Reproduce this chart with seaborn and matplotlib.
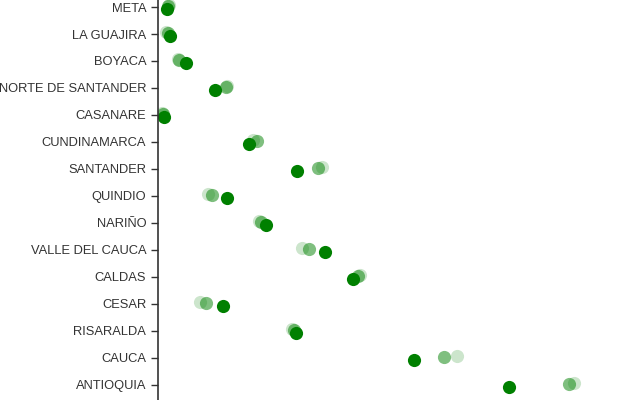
import matplotlib
matplotlib.use("Agg")
import matplotlib.pyplot as plt
import matplotlib.transforms as mtrans
import seaborn as sns
import pandas as pd

departments = ["META", "LA GUAJIRA", "BOYACA", "NORTE DE SANTANDER", "CASANARE",
               "CUNDINAMARCA", "SANTANDER", "QUINDIO", "NARIÑO", "VALLE DEL CAUCA",
               "CALDAS", "CESAR", "RISARALDA", "CAUCA", "ANTIOQUIA"]

# three series, oldest (faintest) to latest (solid)
serie_a = [2.8, 2.0, 5.0, 17.2, 1.0, 23.8, 41.0, 12.5, 25.2, 36.0, 50.5, 10.5, 33.5, 74.8, 104.0]
serie_b = [2.5, 2.5, 5.2, 17.0, 1.2, 24.8, 40.0, 13.5, 25.8, 37.8, 50.0, 12.0, 34.0, 71.5, 102.8]
serie_c = [2.2, 3.0, 7.0, 14.2, 1.5, 22.8, 34.8, 17.2, 27.0, 41.8, 48.8, 16.2, 34.5, 64.0, 87.8]

sns.set_style("white")
plt.rcParams["font.family"] = ["Liberation Sans", "DejaVu Sans"]

fig = plt.figure(figsize=(6.4, 4.0), dpi=100)
ax = fig.add_axes([158 / 640, 0, 482 / 640, 1])

series = [(serie_a, 0.2, -2), (serie_b, 0.5, -1), (serie_c, 1.0, 2)]
for vals, alpha, dy in series:
    df = pd.DataFrame({"dep": departments, "val": vals})
    before = len(ax.collections)
    sns.scatterplot(data=df, x="val", y="dep", color="green", alpha=alpha,
                    s=90, linewidth=0, ax=ax)
    coll = ax.collections[before]
    coll.set_offset_transform(mtrans.offset_copy(ax.transData, fig=fig, x=0, y=-dy, units="dots"))

ax.set_xlim(0, 120.5)
ax.set_ylim(14.56, -0.26)
ax.set_xlabel("")
ax.set_ylabel("")
ax.set_xticks([])
for side in ["top", "right", "bottom"]:
    ax.spines[side].set_visible(False)
ax.spines["left"].set_color("#333333")
ax.spines["left"].set_linewidth(1.2)
ax.tick_params(axis="y", left=True, length=5, width=1, color="#333333",
               labelsize=9.3, labelcolor="#333333", pad=3.5)

fig.savefig("out.png", dpi=100)
